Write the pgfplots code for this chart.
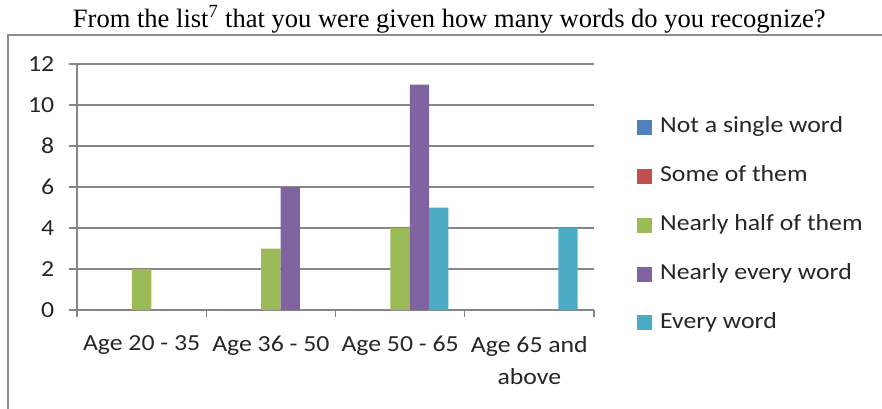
\documentclass[border=0pt]{standalone}
\usepackage{pgfplots}
\pgfplotsset{compat=1.18}
\usepackage{fontspec}
\setmainfont{Carlito}[FakeStretch=1.12]
\newfontfamily\titlefont{Liberation Serif}

\definecolor{xlBlue}{HTML}{4F81BD}
\definecolor{xlRed}{HTML}{C0504D}
\definecolor{xlGreen}{HTML}{9BBB59}
\definecolor{xlPurple}{HTML}{8064A2}
\definecolor{xlCyan}{HTML}{4BACC6}
\definecolor{xlGrid}{HTML}{868686}
\definecolor{xlFrame}{HTML}{8C8C8C}

% answers per age group (0 = Age 20-35, 1 = 36-50, 2 = 50-65, 3 = 65+)
\pgfplotstableread{
x notsingle some nearlyhalf nearlyevery every
0 0 0 2 0  0
1 0 0 3 6  0
2 0 0 4 11 5
3 0 0 0 0  4
}\wordsdata

\begin{document}
\begin{tikzpicture}
\useasboundingbox (0pt,0pt) rectangle (661.5pt,306pt);
% chart frame (only its left and top edges fall on the page)
\draw[xlFrame, line width=1.7pt] (5.8pt,-5pt) -- (5.8pt,279.75pt) -- (670pt,279.75pt);
% title
\node[anchor=base, font=\titlefont\fontsize{19.9pt}{22pt}\selectfont, inner sep=0pt]
  at (337pt,285.5pt) {From the list\textsuperscript{7} that you were given how many words do you recognize?};

\begin{axis}[
  at={(57.75pt,73.5pt)}, anchor=south west,
  scale only axis, width=387.75pt, height=184.5pt,
  xmin=-0.5, xmax=3.5, ymin=0, ymax=12,
  ybar=0pt, bar width=14.5pt,
  axis lines=left,
  axis line style={-, xlGrid, line width=1.1pt},
  ymajorgrids, grid style={xlGrid, line width=1.1pt},
  ytick={0,2,...,12},
  xtick={0,1,2,3},
  xticklabels={Age 20 - 35, Age 36 - 50, Age 50 - 65, {Age 65 and\\above}},
  minor xtick={-0.5,0.5,1.5,2.5,3.5},
  tick align=outside,
  major tick length=6pt, minor tick length=5.25pt,
  major x tick style={draw=none},
  tick style={xlGrid, line width=1.1pt},
  every tick label/.append style={font=\fontsize{17.25pt}{24pt}\selectfont, text=black!85},
  xticklabel style={align=center, yshift=-10pt},
  yticklabel style={xshift=-7.5pt},
  /pgf/number format/assume math mode=true,
  legend style={draw=none, fill=none, at={(1.083,0.786)}, anchor=north west,
    font=\fontsize{17.25pt}{24pt}\selectfont, text=black!85,
    row sep=21.2pt, inner sep=0pt,
    nodes={inner sep=0pt, text height=12pt, text depth=3.5pt},
    /tikz/every odd column/.append style={column sep=6pt}},
  legend cell align=left,
  legend image code/.code={\fill[#1] (0pt,-5.625pt) rectangle (11.25pt,5.625pt);},
]
\addplot[fill=xlBlue, draw=none] table[x=x, y=notsingle] {\wordsdata};
\addplot[fill=xlRed, draw=none] table[x=x, y=some] {\wordsdata};
\addplot[fill=xlGreen, draw=none] table[x=x, y=nearlyhalf] {\wordsdata};
\addplot[fill=xlPurple, draw=none] table[x=x, y=nearlyevery] {\wordsdata};
\addplot[fill=xlCyan, draw=none] table[x=x, y=every] {\wordsdata};
\legend{Not a single word, Some of them, Nearly half of them, Nearly every word, Every word}
\end{axis}
\end{tikzpicture}
\end{document}
